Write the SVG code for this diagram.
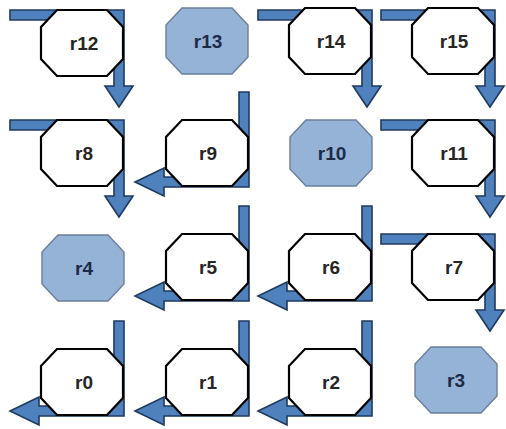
<svg xmlns="http://www.w3.org/2000/svg" xmlns:xlink="http://www.w3.org/1999/xlink" width="506" height="429" viewBox="0 0 506 429">
<style>
.arr{fill:#4f81bd;stroke:#1f3a60;stroke-width:1.6;stroke-linejoin:miter}
.oct{fill:#ffffff;stroke:#000000;stroke-width:2.2}
.oct.hl{fill:#95b3d7;stroke:#6b7f99;stroke-width:1.4}
.lbl{font-family:"Liberation Sans",Arial,sans-serif;font-weight:bold;font-size:19px;fill:#262626;text-anchor:middle}
.hl-t{fill:#1c2b47}
</style>
<defs>
<path id="down" d="M -31,0 H 83 V 76 H 92 L 78,97 L 64,76 H 73 V 10 H -31 Z"/>
<path id="left" d="M 83,-28 V 67 H -2 V 76 L -31,62 L -2,48 V 57 H 73 V -28 Z"/>
<path id="octa" d="M -25,-33 L 25,-33 L 41,-16 L 41,16 L 25,33 L -25,33 L -41,16 L -41,-16 Z"/>
</defs>
<rect width="506" height="429" fill="#ffffff"/>
<g id="connectors">
<use href="#down" class="arr" x="41" y="10"/>
<use href="#down" class="arr" x="289" y="10"/>
<use href="#down" class="arr" x="412" y="10"/>
<use href="#down" class="arr" x="41" y="120"/>
<use href="#down" class="arr" x="412" y="120"/>
<use href="#down" class="arr" x="412" y="234"/>
<use href="#left" class="arr" x="166" y="120"/>
<use href="#left" class="arr" x="166" y="234"/>
<use href="#left" class="arr" x="289" y="234"/>
<use href="#left" class="arr" x="41" y="349"/>
<use href="#left" class="arr" x="166" y="349"/>
<use href="#left" class="arr" x="289" y="349"/>
</g>
<g id="r12"><use href="#octa" class="oct" x="82" y="43"/><text class="lbl" x="84" y="50">r12</text></g>
<g id="r13"><use href="#octa" class="oct hl" x="207" y="41"/><text class="lbl hl-t" x="208" y="48">r13</text></g>
<g id="r14"><use href="#octa" class="oct" x="330" y="41"/><text class="lbl" x="331" y="48">r14</text></g>
<g id="r15"><use href="#octa" class="oct" x="453" y="41"/><text class="lbl" x="454" y="48">r15</text></g>
<g id="r8"><use href="#octa" class="oct" x="82" y="153"/><text class="lbl" x="84" y="160">r8</text></g>
<g id="r9"><use href="#octa" class="oct" x="207" y="153"/><text class="lbl" x="208" y="160">r9</text></g>
<g id="r10"><use href="#octa" class="oct hl" x="331" y="153"/><text class="lbl hl-t" x="332" y="160">r10</text></g>
<g id="r11"><use href="#octa" class="oct" x="453" y="153"/><text class="lbl" x="454" y="160">r11</text></g>
<g id="r4"><use href="#octa" class="oct hl" x="83" y="268"/><text class="lbl hl-t" x="84" y="275">r4</text></g>
<g id="r5"><use href="#octa" class="oct" x="207" y="267"/><text class="lbl" x="208" y="274">r5</text></g>
<g id="r6"><use href="#octa" class="oct" x="330" y="267"/><text class="lbl" x="331" y="274">r6</text></g>
<g id="r7"><use href="#octa" class="oct" x="453" y="267"/><text class="lbl" x="454" y="274">r7</text></g>
<g id="r0"><use href="#octa" class="oct" x="82" y="382"/><text class="lbl" x="84" y="389">r0</text></g>
<g id="r1"><use href="#octa" class="oct" x="207" y="382"/><text class="lbl" x="208" y="389">r1</text></g>
<g id="r2"><use href="#octa" class="oct" x="330" y="382"/><text class="lbl" x="331" y="389">r2</text></g>
<g id="r3"><use href="#octa" class="oct hl" x="456" y="380"/><text class="lbl hl-t" x="456" y="387">r3</text></g>
</svg>
